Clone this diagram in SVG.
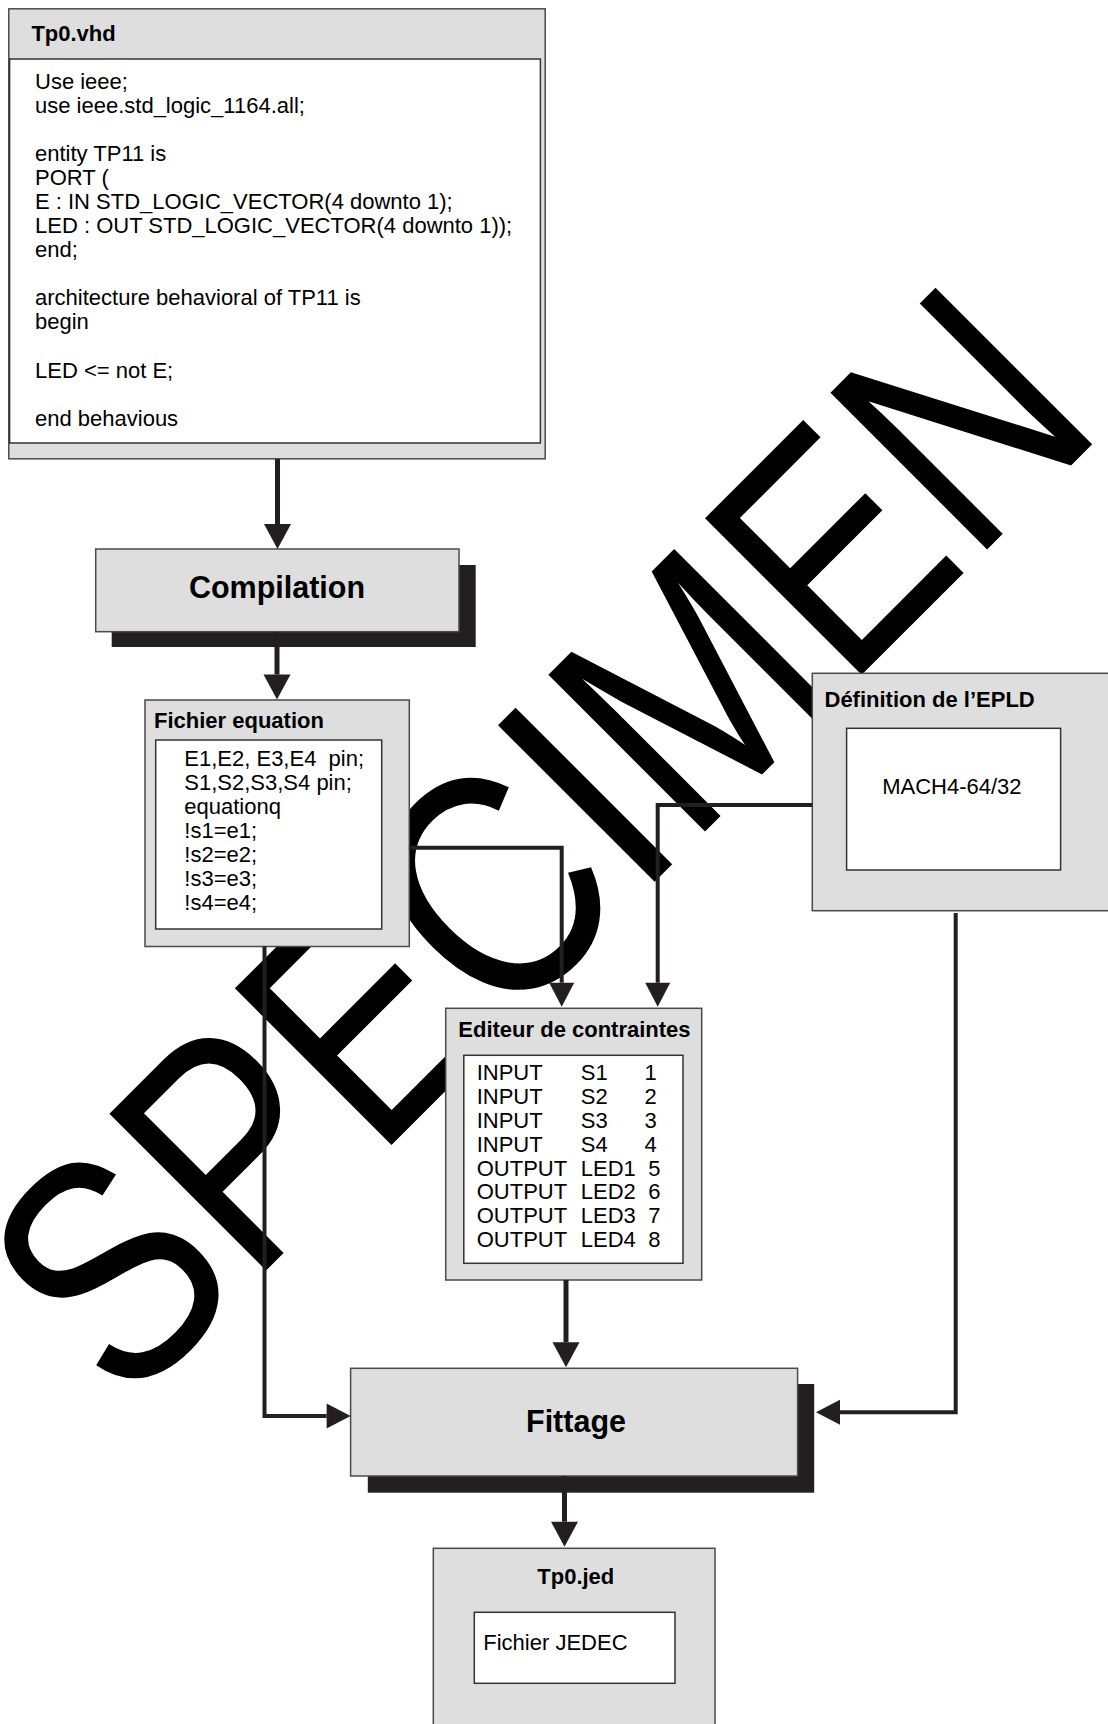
<svg xmlns="http://www.w3.org/2000/svg" width="1108" height="1724" viewBox="0 0 1108 1724">
<style>
text{font-family:"Liberation Sans",Arial,Helvetica,sans-serif;fill:#000;}
.t{font-size:22px;font-weight:bold;}
.big{font-size:30.5px;font-weight:bold;text-anchor:middle;}
.c{font-size:22px;}
.box{fill:#dedede;stroke:#4a4a4a;stroke-width:1.5;}
.in{fill:#fff;stroke:#333;stroke-width:1.5;}
.sh{fill:#231f20;}
.main{fill:none;stroke:#231f20;stroke-width:5;marker-end:url(#ah);}
.side{fill:none;stroke:#231f20;stroke-width:4;marker-end:url(#ah2);}
.wm{font-size:322px;fill:#000;}
</style>
<defs>
<marker id="ah" markerUnits="userSpaceOnUse" markerWidth="26" markerHeight="27" refX="0" refY="13.5" orient="auto" overflow="visible">
<path d="M0,0 L25,13.5 L0,27 z" fill="#231f20"/>
</marker>
<marker id="ah2" markerUnits="userSpaceOnUse" markerWidth="25" markerHeight="26" refX="0" refY="12.5" orient="auto" overflow="visible">
<path d="M0,0 L24,12.5 L0,25 z" fill="#231f20"/>
</marker>
</defs>
<rect width="1108" height="1724" fill="#fff"/>
<g id="watermark">
<text class="wm" transform="translate(125.2,1411.3) rotate(-45) scale(0.826,1)">SPECIMEN</text>
</g>
<g id="tp0vhd">
<rect class="box" x="8.8" y="8.8" width="536.4" height="450"/>
<rect class="in" x="9.6" y="59" width="530.8" height="384"/>
<text class="t" x="31.4" y="41">Tp0.vhd</text>
<text class="c" x="35" y="89">Use ieee;</text>
<text class="c" x="35" y="113">use ieee.std_logic_1164.all;</text>
<text class="c" x="35" y="161">entity TP11 is</text>
<text class="c" x="35" y="185">PORT (</text>
<text class="c" x="35" y="209">E : IN STD_LOGIC_VECTOR(4 downto 1);</text>
<text class="c" x="35" y="233">LED : OUT STD_LOGIC_VECTOR(4 downto 1));</text>
<text class="c" x="35" y="257">end;</text>
<text class="c" x="35" y="305">architecture behavioral of TP11 is</text>
<text class="c" x="35" y="329">begin</text>
<text class="c" x="35" y="378">LED &lt;= not E;</text>
<text class="c" x="35" y="426">end behavious</text>
</g>
<g id="compilation">
<rect class="sh" x="111.7" y="565" width="364" height="82"/>
<rect class="box" x="95.7" y="549" width="363.3" height="82.7"/>
<text class="big" x="277" y="598">Compilation</text>
</g>
<g id="fichier-equation">
<rect class="box" x="145" y="700" width="264.3" height="246.5"/>
<rect class="in" x="155.7" y="740" width="226" height="189"/>
<text class="t" x="154" y="727.7">Fichier equation</text>
<text class="c" x="184.3" y="765.7" xml:space="preserve">E1,E2, E3,E4  pin;</text>
<text class="c" x="184.3" y="790">S1,S2,S3,S4 pin;</text>
<text class="c" x="184.3" y="814.3">equationq</text>
<text class="c" x="184.3" y="838.3">!s1=e1;</text>
<text class="c" x="184.3" y="862.3">!s2=e2;</text>
<text class="c" x="184.3" y="886.3">!s3=e3;</text>
<text class="c" x="184.3" y="910.3">!s4=e4;</text>
</g>
<g id="definition-epld">
<rect class="box" x="812.3" y="673.3" width="300" height="237.4"/>
<rect class="in" x="846.6" y="728.3" width="214" height="141.7"/>
<text class="t" x="824.5" y="706.7">Définition de l’EPLD</text>
<text class="c" x="882.2" y="794.3">MACH4-64/32</text>
</g>
<g id="editeur">
<rect class="box" x="445.7" y="1008.3" width="256" height="271.7"/>
<rect class="in" x="463.8" y="1055.3" width="219.2" height="208"/>
<text class="t" x="458.3" y="1037.3">Editeur de contraintes</text>
<text class="c" x="476.7" y="1080">INPUT</text><text class="c" x="580.8" y="1080">S1</text><text class="c" x="644.5" y="1080">1</text>
<text class="c" x="476.7" y="1104">INPUT</text><text class="c" x="580.8" y="1104">S2</text><text class="c" x="644.5" y="1104">2</text>
<text class="c" x="476.7" y="1127.8">INPUT</text><text class="c" x="580.8" y="1127.8">S3</text><text class="c" x="644.5" y="1127.8">3</text>
<text class="c" x="476.7" y="1151.7">INPUT</text><text class="c" x="580.8" y="1151.7">S4</text><text class="c" x="644.5" y="1151.7">4</text>
<text class="c" x="476.7" y="1175.5">OUTPUT</text><text class="c" x="580.8" y="1175.5">LED1</text><text class="c" x="648.3" y="1175.5">5</text>
<text class="c" x="476.7" y="1199.4">OUTPUT</text><text class="c" x="580.8" y="1199.4">LED2</text><text class="c" x="648.3" y="1199.4">6</text>
<text class="c" x="476.7" y="1223.3">OUTPUT</text><text class="c" x="580.8" y="1223.3">LED3</text><text class="c" x="648.3" y="1223.3">7</text>
<text class="c" x="476.7" y="1247.2">OUTPUT</text><text class="c" x="580.8" y="1247.2">LED4</text><text class="c" x="648.3" y="1247.2">8</text>
</g>
<g id="fittage">
<rect class="sh" x="367.8" y="1384" width="446.4" height="108.7"/>
<rect class="box" x="350.6" y="1368.3" width="447" height="107.7"/>
<text class="big" x="576" y="1431.7">Fittage</text>
</g>
<g id="tp0jed">
<rect class="box" x="433.3" y="1548.3" width="281.7" height="190"/>
<rect class="in" x="474.3" y="1612.3" width="200.7" height="71"/>
<text class="t" x="575.8" y="1584.3" text-anchor="middle">Tp0.jed</text>
<text class="c" x="483.3" y="1650">Fichier JEDEC</text>
</g>
<g id="connectors">
<path class="main" d="M277.5,459 V524"/>
<path class="main" d="M277,632 V674.5"/>
<path class="side" d="M409.3,847.7 H561.7 V982.7"/>
<path class="side" d="M812.3,805 H657.7 V982.7"/>
<path class="main" d="M566,1280 V1342.3"/>
<path class="side" d="M264.5,946.5 V1416 H326.6"/>
<path class="side" d="M955.7,913 V1412.3 H840"/>
<path class="main" d="M564.5,1476 V1521.7"/>
</g>
</svg>
